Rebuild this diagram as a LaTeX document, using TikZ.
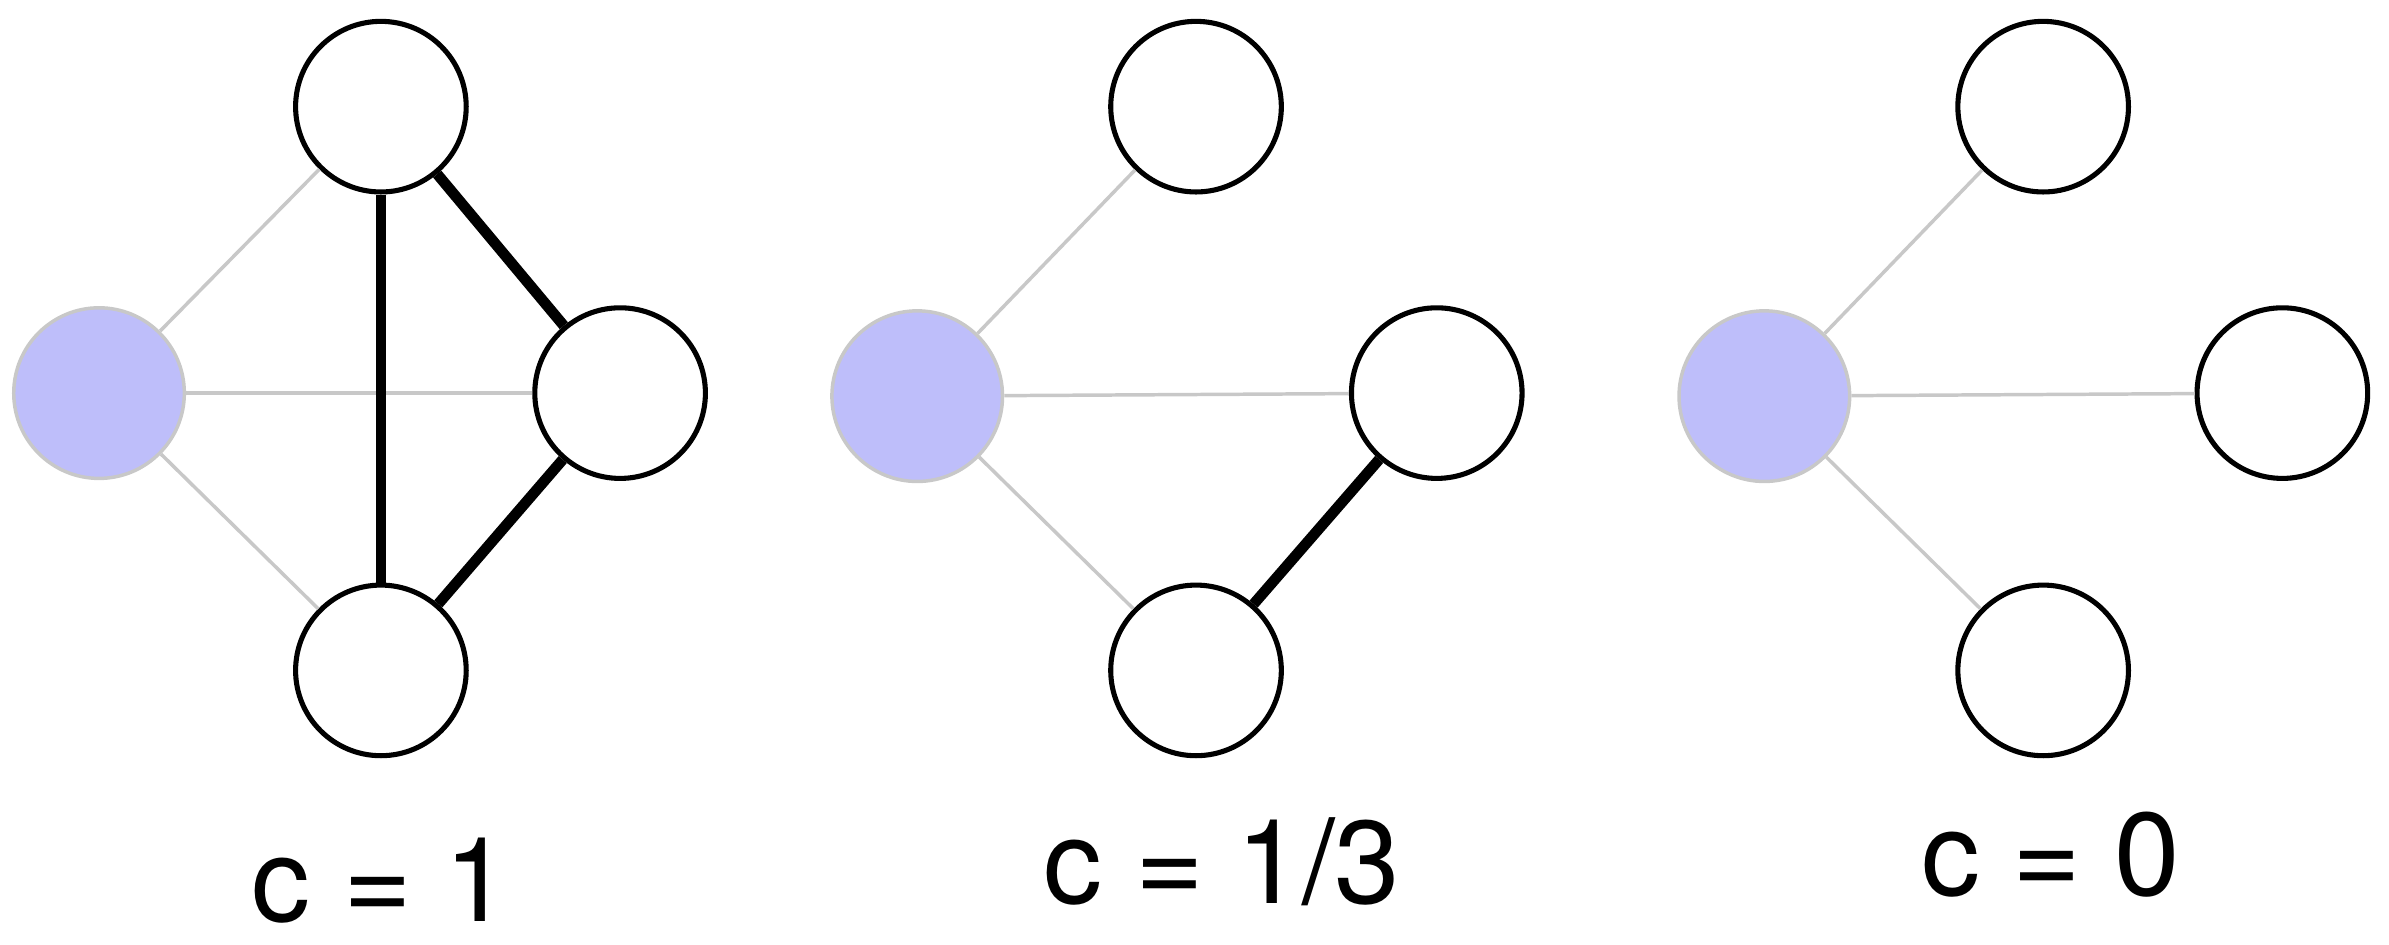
\documentclass[tikz,border=0pt]{standalone}
\usepackage{fontspec}
\setmainfont{TeX Gyre Heros}
\usetikzlibrary{positioning}
\definecolor{egoblue}{RGB}{190,190,250}
\definecolor{spokegray}{RGB}{200,200,200}

\begin{document}
\begin{tikzpicture}[x=0.02cm, y=-0.02cm,
  vert/.style={draw, circle, line width=1.9pt, minimum size=2.24cm, inner sep=0pt},
  ego/.style={vert, draw=spokegray, line width=1.3pt, fill=egoblue},
  spoke/.style={draw=spokegray, line width=1.3pt},
  tie/.style={line width=4pt},
  caption/.style={anchor=base, inner sep=0pt, font=\fontsize{44}{50}\selectfont}]
\useasboundingbox (0,0) rectangle (1568,620);

% c = 1
\node[ego] (e1) at (65,258) {};
\node[vert] (t1) at (250,70) {};
\node[vert] (r1) at (407,258) {};
\node[vert] (b1) at (250,440) {};
\draw[spoke] (e1) -- (t1);
\draw[spoke] (e1) -- (r1);
\draw[spoke] (e1) -- (b1);
\draw[tie] (t1) -- (b1);
\draw[tie] (t1) -- (r1);
\draw[tie] (r1) -- (b1);
\node[caption] (c1) at (250,605) {c = 1};

% c = 1/3
\node[ego] (e2) at (602,260) {};
\node[vert] (t2) at (785,70) {};
\node[vert] (r2) at (943,258) {};
\node[vert] (b2) at (785,440) {};
\draw[spoke] (e2) -- (t2);
\draw[spoke] (e2) -- (r2);
\draw[spoke] (e2) -- (b2);
\draw[tie] (r2) -- (b2);
\node[caption] (c2) at (802,593) {c = 1/3};

% c = 0
\node[ego] (e3) at (1158,260) {};
\node[vert] (t3) at (1341,70) {};
\node[vert] (r3) at (1498,258) {};
\node[vert] (b3) at (1341,440) {};
\draw[spoke] (e3) -- (t3);
\draw[spoke] (e3) -- (r3);
\draw[spoke] (e3) -- (b3);
\node[caption] (c3) at (1346,588) {c = 0};
\end{tikzpicture}
\end{document}
